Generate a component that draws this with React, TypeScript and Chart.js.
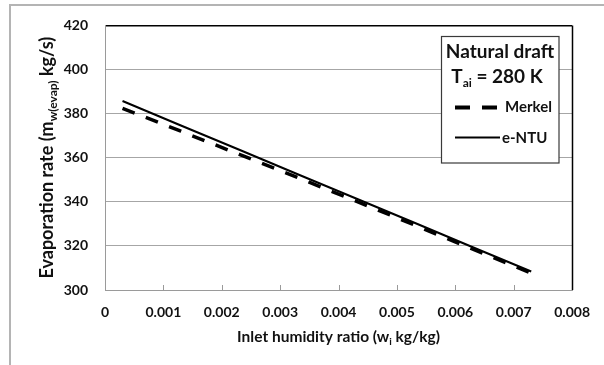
import React, { useEffect, useRef } from "react";
import { Chart, registerables } from "chart.js";

Chart.register(...registerables);

const humidityRatio = [0.0003, 0.0013, 0.0023, 0.0033, 0.0043, 0.0053, 0.0063, 0.0073];
const merkelRate = [382.4, 372.0, 361.5, 351.0, 340.3, 329.5, 318.5, 307.6];
const entuRate = [385.7, 374.6, 363.6, 352.5, 341.5, 330.5, 319.4, 308.4];
const yTickMin = 300;
const yTickMax = 420;
const yTickStep = 20;
const xTickMin = 0;
const xTickMax = 0.008;
const xTickStep = 0.001;

const FONT = 'Lato, "DejaVu Sans", sans-serif';
const TEXT = "#111111";

type Part = { t: string; size: number; dy?: number };

function drawRich(ctx: CanvasRenderingContext2D, parts: Part[], x: number, y: number, align: "center" | "left") {
  let total = 0;
  const widths = parts.map((p) => {
    ctx.font = `bold ${p.size}px ${FONT}`;
    const w = ctx.measureText(p.t).width;
    total += w;
    return w;
  });
  let cx = align === "center" ? x - total / 2 : x;
  ctx.textAlign = "left";
  ctx.textBaseline = "alphabetic";
  parts.forEach((p, i) => {
    ctx.font = `bold ${p.size}px ${FONT}`;
    ctx.fillText(p.t, cx, y + (p.dy || 0));
    cx += widths[i];
  });
}

const decorPlugin = {
  id: "decor",
  beforeDraw(chart: any) {
    const ctx = chart.ctx as CanvasRenderingContext2D;
    ctx.save();
    ctx.fillStyle = "#ffffff";
    ctx.fillRect(0, 0, chart.width, chart.height);
    ctx.strokeStyle = "#b4b4b4";
    ctx.lineWidth = 2;
    ctx.strokeRect(10, 5, 800, 800);
    ctx.restore();
  },
  afterDraw(chart: any) {
    const ctx = chart.ctx as CanvasRenderingContext2D;
    const area = chart.chartArea;
    const xs = chart.scales.x;
    ctx.save();
    // right border
    ctx.strokeStyle = "#000000";
    ctx.lineWidth = 1.5;
    ctx.beginPath();
    ctx.moveTo(Math.round(area.right) + 0.5, area.top);
    ctx.lineTo(Math.round(area.right) + 0.5, area.bottom);
    ctx.stroke();
    // inner x tick marks
    ctx.strokeStyle = "#9a9a9a";
    ctx.lineWidth = 1;
    xs.ticks.forEach((t: any) => {
      if (t.value <= xTickMin + 1e-9 || t.value >= xTickMax - 1e-9) return;
      const px = Math.round(xs.getPixelForValue(t.value)) + 0.5;
      ctx.beginPath();
      ctx.moveTo(px, area.bottom);
      ctx.lineTo(px, area.bottom - 5);
      ctx.stroke();
    });
    ctx.fillStyle = TEXT;
    // x title
    drawRich(
      ctx,
      [
        { t: "Inlet humidity ratio (w", size: 15.5 },
        { t: "i", size: 10, dy: 3 },
        { t: " kg/kg)", size: 15.5 },
      ],
      (area.left + area.right) / 2,
      342,
      "center"
    );
    // y title
    ctx.save();
    ctx.translate(53, (area.top + area.bottom) / 2);
    ctx.rotate(-Math.PI / 2);
    drawRich(
      ctx,
      [
        { t: "Evaporation rate (m", size: 18 },
        { t: "w(evap)", size: 12, dy: 4 },
        { t: " kg/s)", size: 18 },
      ],
      0,
      0,
      "center"
    );
    ctx.restore();
    // legend box
    const bx = 441.5, by = 36.5, bw = 117.5, bh = 126.5;
    ctx.fillStyle = "#ffffff";
    ctx.fillRect(bx, by, bw, bh);
    ctx.strokeStyle = "#3a3a3a";
    ctx.lineWidth = 1.2;
    ctx.strokeRect(bx, by, bw, bh);
    ctx.fillStyle = TEXT;
    drawRich(ctx, [{ t: "Natural draft", size: 19 }], 500, 58, "center");
    drawRich(
      ctx,
      [
        { t: "T", size: 19 },
        { t: "ai", size: 12, dy: 4 },
        { t: " = 280 K", size: 19 },
      ],
      497,
      83,
      "center"
    );
    ctx.strokeStyle = "#000000";
    ctx.lineCap = "butt";
    ctx.lineWidth = 4;
    ctx.setLineDash([15, 12]);
    ctx.beginPath();
    ctx.moveTo(455, 107.5);
    ctx.lineTo(497, 107.5);
    ctx.stroke();
    ctx.setLineDash([]);
    ctx.lineWidth = 2;
    ctx.beginPath();
    ctx.moveTo(455, 137.5);
    ctx.lineTo(500, 137.5);
    ctx.stroke();
    ctx.fillStyle = TEXT;
    drawRich(ctx, [{ t: "Merkel", size: 15 }], 505, 111.5, "left");
    drawRich(ctx, [{ t: "e-NTU", size: 15 }], 502, 142.5, "left");
    ctx.restore();
  },
};

export default function App() {
  const ref = useRef<HTMLCanvasElement | null>(null);
  useEffect(() => {
    if (!ref.current) return;
    const chart = new Chart(ref.current, {
      type: "line",
      data: {
        datasets: [
          {
            label: "Merkel",
            data: humidityRatio.map((x, i) => ({ x, y: merkelRate[i] })),
            borderColor: "#000000",
            borderWidth: 3.5,
            borderDash: [13, 12],
            borderCapStyle: "butt",
            pointRadius: 0,
            fill: false,
            tension: 0,
          },
          {
            label: "e-NTU",
            data: humidityRatio.map((x, i) => ({ x, y: entuRate[i] })),
            borderColor: "#000000",
            borderWidth: 2,
            pointRadius: 0,
            fill: false,
            tension: 0,
          },
        ],
      },
      options: {
        animation: false,
        responsive: false,
        layout: { padding: { left: 0, right: 29, top: 23, bottom: 0 } },
        plugins: { legend: { display: false }, tooltip: { enabled: false } },
        scales: {
          x: {
            type: "linear",
            min: xTickMin,
            max: xTickMax,
            afterFit: (s: any) => {
              s.height = 75;
            },
            grid: { display: false, drawTicks: false },
            border: { display: true, color: "#9a9a9a", width: 1 },
            ticks: {
              stepSize: xTickStep,
              padding: 14,
              color: TEXT,
              font: { family: FONT, size: 14, weight: "bold" },
              maxRotation: 0,
              autoSkip: false,
              callback: (v: any) => (Number(v) === 0 ? "0" : Number(v).toFixed(3)),
            },
          },
          y: {
            type: "linear",
            min: yTickMin,
            max: yTickMax,
            afterFit: (s: any) => {
              s.width = 105;
            },
            grid: {
              drawTicks: false,
              color: (c: any) => (c.tick && c.tick.value === yTickMax ? "#000000" : "#a6a6a6"),
              lineWidth: (c: any) => (c.tick && c.tick.value === yTickMax ? 1.5 : 1),
            },
            border: { display: true, color: "#9a9a9a", width: 1 },
            ticks: {
              stepSize: yTickStep,
              padding: 17,
              color: TEXT,
              font: { family: FONT, size: 14, weight: "bold" },
            },
          },
        },
      },
      plugins: [decorPlugin],
    } as any);
    return () => chart.destroy();
  }, []);
  return (
    <div style={{ position: "fixed", left: 0, top: 0, width: 604, height: 365 }}>
      <canvas ref={ref} width={604} height={365} style={{ display: "block" }} />
    </div>
  );
}
